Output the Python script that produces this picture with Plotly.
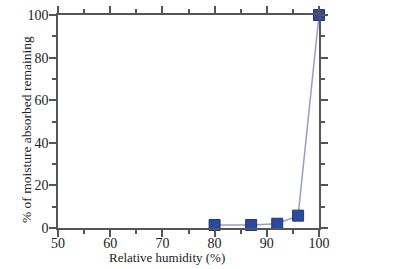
import plotly.graph_objects as go

humidity = [80, 87, 92, 96, 100]
remaining = [1.4, 1.4, 2.0, 5.8, 100]
x_ticks = [50, 60, 70, 80, 90, 100]
y_ticks = [0, 20, 40, 60, 80, 100]

SERIF = "Liberation Serif"

fig = go.Figure()
fig.add_trace(go.Scatter(
    x=humidity, y=remaining, mode="lines+markers",
    line=dict(color="#9a9cc8", width=1.5),
    marker=dict(symbol="square", size=11, color="#2b4a9e",
                line=dict(color="#1e3680", width=1)),
    cliponaxis=False,
))

axis_common = dict(
    showline=True, linecolor="#555555", linewidth=1.5, mirror="ticks",
    ticks="outside", ticklen=7, tickwidth=1.5, tickcolor="#555555",
    showgrid=False, zeroline=False, automargin=False,
    tickfont=dict(family=SERIF, size=14, color="#222222"),
)

fig.update_xaxes(
    range=[50, 100], tickvals=x_ticks, ticktext=[str(v) for v in x_ticks],
    minor=dict(ticks="outside", dtick=5, ticklen=4, tickwidth=1.5, tickcolor="#555555"),
    ticklabelstandoff=-6,
    **axis_common,
)
fig.update_yaxes(
    range=[0, 100], tickvals=y_ticks, ticktext=[str(v) for v in y_ticks],
    minor=dict(ticks="outside", dtick=10, ticklen=4, tickwidth=1.5, tickcolor="#555555"),
    ticklabelstandoff=-2,
    **axis_common,
)

pw = 417 - 58 - 98
ph = 269 - 15 - 41
fig.update_layout(
    width=417, height=269,
    margin=dict(l=58, r=98, t=15, b=41),
    plot_bgcolor="white", paper_bgcolor="white",
    showlegend=False,
    annotations=[
        dict(text="Relative humidity (%)", xref="paper", yref="paper",
             x=(167 - 58) / pw, y=-(257 - 228) / ph, xanchor="center", yanchor="middle",
             showarrow=False, font=dict(family=SERIF, size=13, color="#222222")),
        dict(text="% of moisture absorbed remaining", xref="paper", yref="paper",
             x=-(58 - 26) / pw, y=(228 - 130) / ph, xanchor="center", yanchor="middle",
             showarrow=False, textangle=-90, font=dict(family=SERIF, size=13.5, color="#222222")),
    ],
)

fig.write_html("out.html")
